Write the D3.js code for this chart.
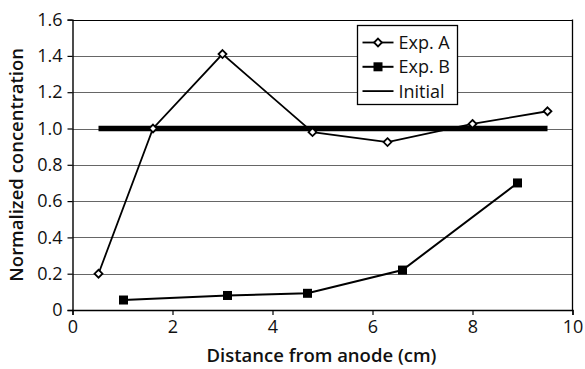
<!DOCTYPE html>
<html>
<head>
<meta charset="utf-8">
<script src="https://cdn.jsdelivr.net/npm/d3@7"></script>
<style>
  body { margin: 0; background: #fff; }
  svg { display: block; font-family: "Open Sans", sans-serif; }
</style>
</head>
<body>
<div id="chart"></div>
<script>
// data
var expAx = [0.52, 1.61, 3.0, 4.8, 6.3, 8.0, 9.5];
var expAy = [0.2, 1.0, 1.41, 0.98, 0.925, 1.025, 1.095];
var expBx = [1.02, 3.1, 4.7, 6.6, 8.9];
var expBy = [0.055, 0.08, 0.092, 0.22, 0.7];
var initX = [0.52, 9.5];
var initY = [1.0, 1.0];
var xTicks = [0, 2, 4, 6, 8, 10];
var yTicks = [0, 0.2, 0.4, 0.6, 0.8, 1.0, 1.2, 1.4, 1.6];
var yTickLabels = ["0", "0.2", "0.4", "0.6", "0.8", "1.0", "1.2", "1.4", "1.6"];
var legendNames = ["Exp. A", "Exp. B", "Initial"];

var W = 585, H = 369;
var mLeft = 72.5, mRight = 572.5, mTop = 19.6, mBottom = 310;

var svg = d3.select("#chart").append("svg")
  .attr("width", W)
  .attr("height", H);

var x = d3.scaleLinear().domain([0, 10]).range([mLeft, mRight]);
var y = d3.scaleLinear().domain([0, 1.6]).range([mBottom, mTop]);

// gridlines
svg.append("g")
  .selectAll("line")
  .data(yTicks.slice(1))
  .enter().append("line")
  .attr("x1", mLeft).attr("x2", mRight)
  .attr("y1", function(d) { return Math.round(y(d)) + 0.5; })
  .attr("y2", function(d) { return Math.round(y(d)) + 0.5; })
  .style("stroke", function(d) { return d === 1.6 ? "#000" : "#666"; })
  .style("stroke-width", 1.2);

// right border
svg.append("line")
  .attr("x1", mRight).attr("x2", mRight)
  .attr("y1", y(1.6)).attr("y2", y(0))
  .style("stroke", "#000").style("stroke-width", 1.3);

// axes
var xAxis = svg.append("g")
  .attr("transform", "translate(0," + mBottom + ")")
  .call(d3.axisBottom(x).tickValues(xTicks).tickSize(5).tickPadding(5).tickFormat(d3.format("d")));
var yAxis = svg.append("g")
  .attr("transform", "translate(" + mLeft + ",0)")
  .call(d3.axisLeft(y).tickValues(yTicks).tickSize(5).tickPadding(5)
    .tickFormat(function(d, i) { return yTickLabels[i]; }));

[xAxis, yAxis].forEach(function(a) {
  a.select(".domain").style("stroke", "#000").style("stroke-width", 1.4);
  a.selectAll(".tick line").style("stroke", "#000").style("stroke-width", 1.2);
  a.selectAll("text").style("font-size", "18px").style("fill", "#111")
    .style("font-family", "'Open Sans', sans-serif");
});

// axis titles
svg.append("text")
  .attr("x", (mLeft + mRight) / 2 - 1)
  .attr("y", 362)
  .attr("text-anchor", "middle")
  .style("font-size", "18.5px")
  .style("font-weight", 600)
  .style("fill", "#111")
  .text("Distance from anode (cm)");

svg.append("text")
  .attr("transform", "translate(23," + ((mTop + mBottom) / 2) + ") rotate(-90)")
  .attr("text-anchor", "middle")
  .style("font-size", "18.5px")
  .style("font-weight", 600)
  .style("fill", "#111")
  .text("Normalized concentration");

var line = d3.line()
  .x(function(d) { return x(d[0]); })
  .y(function(d) { return y(d[1]); });

var initData = d3.zip(initX, initY);
var aData = d3.zip(expAx, expAy);
var bData = d3.zip(expBx, expBy);

// initial
svg.append("path")
  .attr("d", line(initData))
  .style("fill", "none")
  .style("stroke", "#000")
  .style("stroke-width", 5.5);

// Exp B
svg.append("path")
  .attr("d", line(bData))
  .style("fill", "none")
  .style("stroke", "#000")
  .style("stroke-width", 2);
svg.selectAll(".sq")
  .data(bData)
  .enter().append("rect")
  .attr("class", "sq")
  .attr("x", function(d) { return x(d[0]) - 4.5; })
  .attr("y", function(d) { return y(d[1]) - 4.5; })
  .attr("width", 9).attr("height", 9)
  .style("fill", "#000");

// Exp A
svg.append("path")
  .attr("d", line(aData))
  .style("fill", "none")
  .style("stroke", "#000")
  .style("stroke-width", 1.8);
var diamond = d3.symbol().type(d3.symbolDiamond2).size(40);
svg.selectAll(".dm")
  .data(aData)
  .enter().append("path")
  .attr("class", "dm")
  .attr("transform", function(d) { return "translate(" + x(d[0]) + "," + y(d[1]) + ")"; })
  .attr("d", diamond)
  .style("fill", "#fff")
  .style("stroke", "#000")
  .style("stroke-width", 1.8);

// legend
var lg = svg.append("g").attr("transform", "translate(357.5,25.5)");
lg.append("rect")
  .attr("width", 100).attr("height", 79)
  .style("fill", "#fff")
  .style("stroke", "#000")
  .style("stroke-width", 1.3);

var rows = lg.selectAll(".row")
  .data(legendNames)
  .enter().append("g")
  .attr("transform", function(d, i) { return "translate(0," + (17 + i * 24.3) + ")"; });

rows.append("line")
  .attr("x1", 5).attr("x2", 36)
  .attr("y1", 0).attr("y2", 0)
  .style("stroke", "#000")
  .style("stroke-width", function(d, i) { return i === 1 ? 2 : 1.8; });

rows.filter(function(d, i) { return i === 0; })
  .append("path")
  .attr("transform", "translate(20.5,0)")
  .attr("d", diamond)
  .style("fill", "#fff").style("stroke", "#000").style("stroke-width", 1.8);

rows.filter(function(d, i) { return i === 1; })
  .append("rect")
  .attr("x", 16).attr("y", -4.5).attr("width", 9).attr("height", 9)
  .style("fill", "#000");

rows.append("text")
  .attr("x", 41).attr("y", 6.5)
  .style("font-size", "18px")
  .style("fill", "#111")
  .text(function(d) { return d; });
</script>
</body>
</html>
